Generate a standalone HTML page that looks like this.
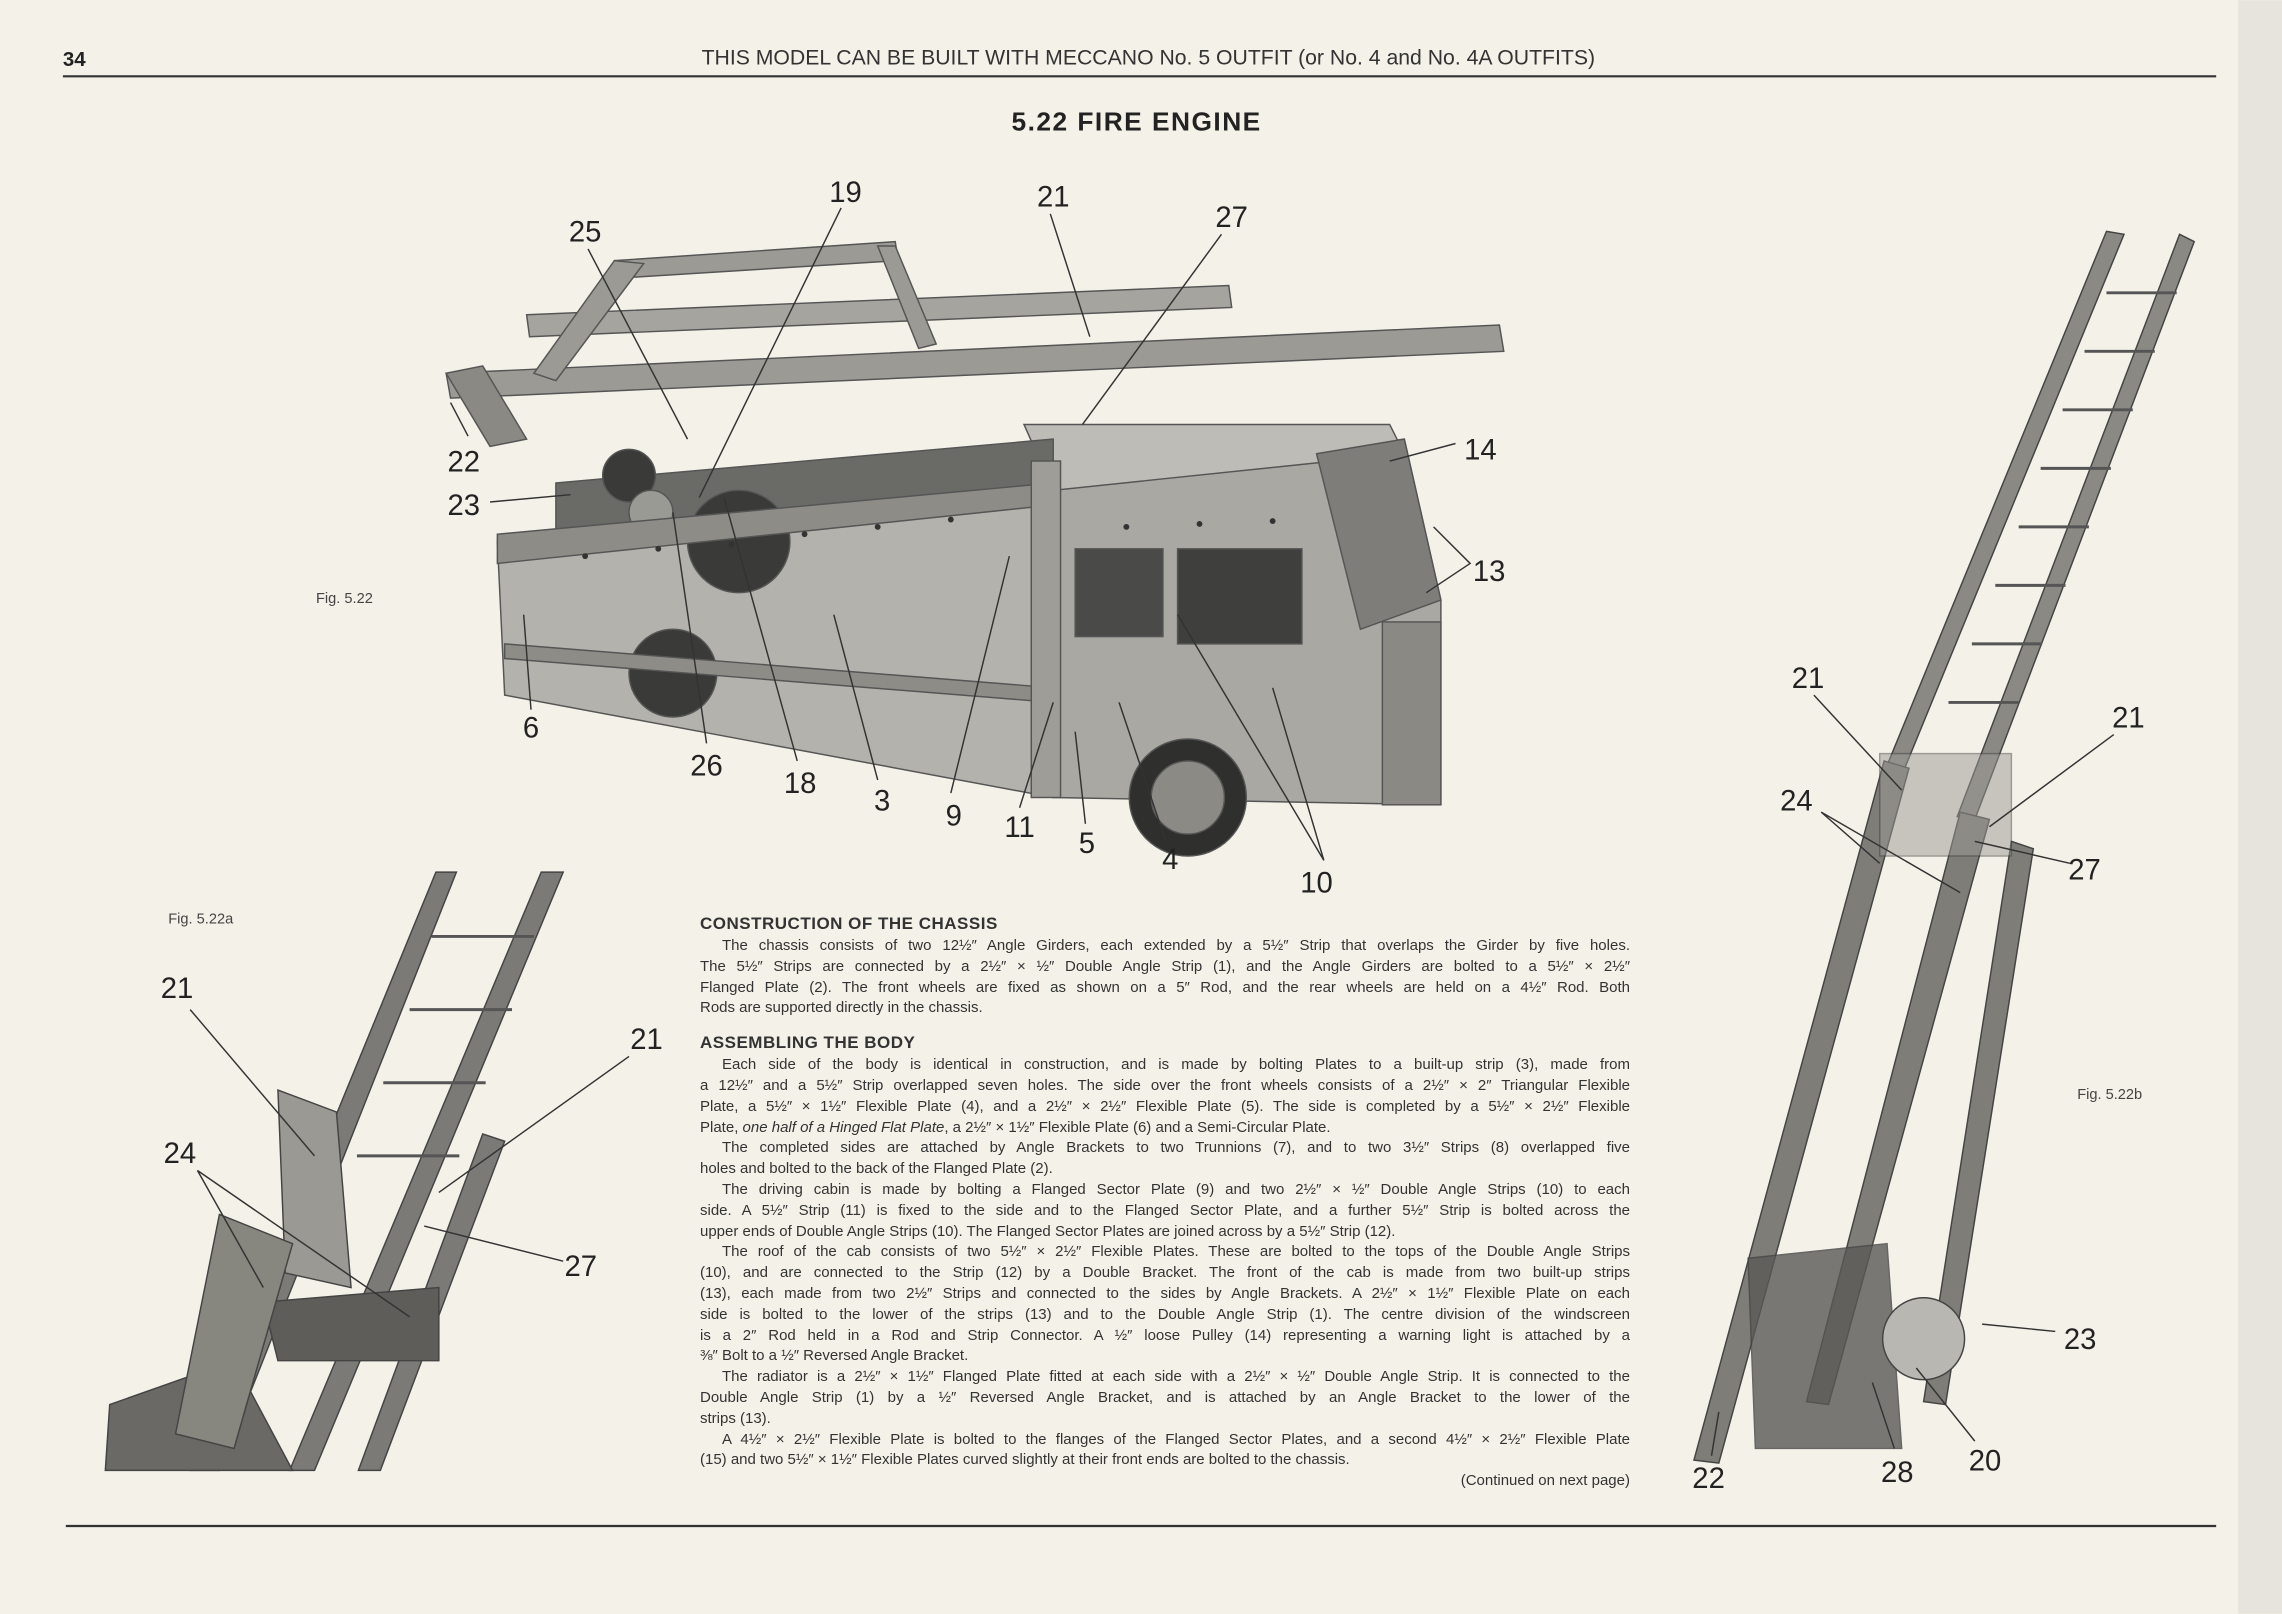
<!DOCTYPE html>
<html><head><meta charset="utf-8"><style>
html,body{margin:0;padding:0}
body{width:2282px;height:1614px;position:relative;background:#f3f1e8;overflow:hidden;font-family:"Liberation Sans",sans-serif;color:#2a2a2a}
svg{position:absolute;left:0;top:0}
#txt{position:absolute;left:700px;top:912px;width:930px;font-size:15px;line-height:20.8px;color:#333}
#txt .h{font-weight:bold;font-size:17px;letter-spacing:0.5px;line-height:24px;margin-top:0}
#txt .l{text-align:justify;text-align-last:justify;white-space:nowrap;overflow:hidden}
#txt .e{text-align:left;white-space:nowrap}
#txt .i{text-indent:22px}
</style></head><body>
<svg width="2282" height="1614" viewBox="0 0 1560 1103">
<rect x="1530" y="0" width="30" height="1103" fill="#e6e4dc"/>
<text x="43" y="45" font-size="14" font-weight="bold" fill="#222">34</text>
<text x="785" y="44" font-size="14.5" text-anchor="middle" fill="#333">THIS MODEL CAN BE BUILT WITH MECCANO No. 5 OUTFIT (or No. 4 and No. 4A OUTFITS)</text>
<line x1="43" y1="52" x2="1515" y2="52" stroke="#333" stroke-width="1.5"/>
<line x1="45" y1="1043" x2="1515" y2="1043" stroke="#333" stroke-width="1.5"/>
<text x="777" y="89" font-size="18" font-weight="bold" text-anchor="middle" fill="#222" letter-spacing="1">5.22 FIRE ENGINE</text>

<!-- main engine -->
<g stroke="#555" stroke-width="1">
<polygon points="340,370 720,335 720,545 345,475" fill="#b3b2ac"/>
<polygon points="720,335 960,300 985,410 985,550 720,545" fill="#a9a8a2"/>
<polygon points="700,290 950,290 960,310 720,335" fill="#bdbcb6"/>
<rect x="735" y="375" width="60" height="60" fill="#4a4a48"/>
<rect x="805" y="375" width="85" height="65" fill="#3f3f3d"/>
<polygon points="900,310 960,300 985,410 930,430" fill="#7e7d79"/>
<rect x="945" y="425" width="40" height="125" fill="#8a8984"/>
<polygon points="380,330 720,300 720,345 380,370" fill="#6a6a67"/>
<circle cx="460" cy="460" r="30" fill="#3a3a38"/>
<circle cx="812" cy="545" r="40" fill="#2f2f2d"/>
<circle cx="812" cy="545" r="25" fill="#8b8a85"/>
<circle cx="505" cy="370" r="35" fill="#3a3a38"/>
<circle cx="430" cy="325" r="18" fill="#3a3a38"/>
<circle cx="445" cy="350" r="15" fill="#9a9a94"/>
<polygon points="340,365 720,330 720,345 340,385" fill="#8d8c87"/>
<polygon points="345,440 720,470 720,480 345,450" fill="#8d8c87"/>
<rect x="705" y="315" width="20" height="230" fill="#9e9d98"/>
<polygon points="305,255 1025,222 1028,240 308,272" fill="#9b9a95"/>
<polygon points="360,215 840,195 842,210 362,230" fill="#a5a49f"/>
<polygon points="420,178 612,165 614,178 422,190" fill="#9b9a95"/>
<polygon points="420,178 440,180 380,260 365,255" fill="#9b9a95"/>
<polygon points="600,168 612,168 640,235 628,238" fill="#9b9a95"/>
<polygon points="305,255 330,250 360,300 335,305" fill="#8a8984"/>
</g>
<g fill="#333"><circle cx="400" cy="380" r="2"/><circle cx="450" cy="375" r="2"/><circle cx="500" cy="372" r="2"/><circle cx="550" cy="365" r="2"/><circle cx="600" cy="360" r="2"/><circle cx="650" cy="355" r="2"/><circle cx="770" cy="360" r="2"/><circle cx="820" cy="358" r="2"/><circle cx="870" cy="356" r="2"/></g>

<!-- left ladder -->
<g stroke="#444" stroke-width="1">
<polygon points="298,596 312,596 150,1005 130,1005" fill="#7b7a76"/>
<polygon points="370,596 385,596 215,1005 198,1005" fill="#7b7a76"/>
<polygon points="330,775 345,780 260,1005 245,1005" fill="#7b7a76"/>
<polygon points="75,960 160,930 200,1005 72,1005" fill="#6a6965"/>
<polygon points="190,745 230,760 240,880 195,870" fill="#9a9994"/>
<polygon points="180,890 300,880 300,930 190,930" fill="#5e5d5a"/>
<polygon points="150,830 200,850 160,990 120,980" fill="#87867f"/>
</g>
<g stroke="#555" stroke-width="2"><line x1="295" y1="640" x2="365" y2="640"/><line x1="280" y1="690" x2="350" y2="690"/><line x1="262" y1="740" x2="332" y2="740"/><line x1="244" y1="790" x2="314" y2="790"/></g>

<!-- right ladder -->
<g stroke="#444" stroke-width="1">
<polygon points="1440,158 1452,160 1300,530 1288,528" fill="#8a8984"/>
<polygon points="1490,160 1500,165 1350,560 1338,558" fill="#8a8984"/>
<polygon points="1288,520 1305,525 1175,1000 1158,998" fill="#7e7d78"/>
<polygon points="1340,555 1360,560 1250,960 1235,958" fill="#7e7d78"/>
<polygon points="1375,575 1390,580 1330,960 1315,958" fill="#7e7d78"/>
<polygon points="1195,860 1290,850 1300,990 1200,990" fill="#5a5956" opacity="0.8"/>
<circle cx="1315" cy="915" r="28" fill="#b8b7b1"/>
<rect x="1285" y="515" width="90" height="70" fill="#9a9994" opacity="0.5"/>
</g>
<g stroke="#555" stroke-width="2">
<line x1="1440" y1="200" x2="1488" y2="200"/><line x1="1425" y1="240" x2="1473" y2="240"/><line x1="1410" y1="280" x2="1458" y2="280"/><line x1="1395" y1="320" x2="1443" y2="320"/><line x1="1380" y1="360" x2="1428" y2="360"/><line x1="1364" y1="400" x2="1412" y2="400"/><line x1="1348" y1="440" x2="1396" y2="440"/><line x1="1332" y1="480" x2="1380" y2="480"/>
</g>

<!-- leaders -->
<g stroke="#333" stroke-width="1" fill="none">
<line x1="575" y1="142" x2="478" y2="340"/><line x1="718" y1="146" x2="745" y2="230"/><line x1="402" y1="170" x2="470" y2="300"/><line x1="835" y1="160" x2="740" y2="290"/><line x1="995" y1="303" x2="950" y2="315"/>
<polyline points="1005,385 980,360 1005,385 975,405"/><line x1="320" y1="298" x2="308" y2="275"/><line x1="335" y1="343" x2="390" y2="338"/>
<line x1="363" y1="485" x2="358" y2="420"/><line x1="483" y1="508" x2="460" y2="350"/><line x1="545" y1="520" x2="495" y2="340"/><line x1="600" y1="533" x2="570" y2="420"/><line x1="650" y1="542" x2="690" y2="380"/><line x1="697" y1="552" x2="720" y2="480"/><line x1="742" y1="563" x2="735" y2="500"/><line x1="797" y1="575" x2="765" y2="480"/><polyline points="905,588 805,420 905,588 870,470"/>
<line x1="130" y1="690" x2="215" y2="790"/><line x1="430" y1="722" x2="300" y2="815"/><polyline points="180,880 135,800 280,900"/><line x1="385" y1="862" x2="290" y2="838"/>
<line x1="1240" y1="475" x2="1300" y2="540"/><line x1="1445" y1="502" x2="1360" y2="565"/><polyline points="1285,590 1245,555 1340,610"/><line x1="1415" y1="590" x2="1350" y2="575"/><line x1="1405" y1="910" x2="1355" y2="905"/><line x1="1170" y1="995" x2="1175" y2="965"/><line x1="1295" y1="990" x2="1280" y2="945"/><line x1="1350" y1="985" x2="1310" y2="935"/>
</g>
<g font-size="20" fill="#222" text-anchor="middle">
<text x="578" y="138">19</text><text x="720" y="141">21</text><text x="400" y="165">25</text><text x="842" y="155">27</text><text x="1012" y="314">14</text><text x="1018" y="397">13</text><text x="317" y="322">22</text><text x="317" y="352">23</text><text x="363" y="504">6</text><text x="483" y="530">26</text><text x="547" y="542">18</text><text x="603" y="554">3</text><text x="652" y="564">9</text><text x="697" y="572">11</text><text x="743" y="583">5</text><text x="800" y="594">4</text><text x="900" y="610">10</text>
<text x="121" y="682">21</text><text x="442" y="717">21</text><text x="123" y="795">24</text><text x="397" y="872">27</text>
<text x="1236" y="470">21</text><text x="1455" y="497">21</text><text x="1228" y="554">24</text><text x="1425" y="601">27</text><text x="1422" y="922">23</text><text x="1168" y="1017">22</text><text x="1297" y="1013">28</text><text x="1357" y="1005">20</text>
</g>
<g font-size="10" fill="#444"><text x="216" y="412">Fig. 5.22</text><text x="115" y="631">Fig. 5.22a</text><text x="1420" y="751">Fig. 5.22b</text></g>
</svg>

<div id="txt">
<div class="h">CONSTRUCTION OF THE CHASSIS</div>
<div class="l i">The chassis consists of two 12½″ Angle Girders, each extended by a 5½″ Strip that overlaps the Girder by five holes.</div>
<div class="l">The 5½″ Strips are connected by a 2½″ × ½″ Double Angle Strip (1), and the Angle Girders are bolted to a 5½″ × 2½″</div>
<div class="l">Flanged Plate (2). The front wheels are fixed as shown on a 5″ Rod, and the rear wheels are held on a 4½″ Rod. Both</div>
<div class="e">Rods are supported directly in the chassis.</div>
<div class="h" style="margin-top:12px">ASSEMBLING THE BODY</div>
<div class="l i">Each side of the body is identical in construction, and is made by bolting Plates to a built-up strip (3), made from</div>
<div class="l">a 12½″ and a 5½″ Strip overlapped seven holes. The side over the front wheels consists of a 2½″ × 2″ Triangular Flexible</div>
<div class="l">Plate, a 5½″ × 1½″ Flexible Plate (4), and a 2½″ × 2½″ Flexible Plate (5). The side is completed by a 5½″ × 2½″ Flexible</div>
<div class="e">Plate, <i>one half of a Hinged Flat Plate</i>, a 2½″ × 1½″ Flexible Plate (6) and a Semi-Circular Plate.</div>
<div class="l i">The completed sides are attached by Angle Brackets to two Trunnions (7), and to two 3½″ Strips (8) overlapped five</div>
<div class="e">holes and bolted to the back of the Flanged Plate (2).</div>
<div class="l i">The driving cabin is made by bolting a Flanged Sector Plate (9) and two 2½″ × ½″ Double Angle Strips (10) to each</div>
<div class="l">side. A 5½″ Strip (11) is fixed to the side and to the Flanged Sector Plate, and a further 5½″ Strip is bolted across the</div>
<div class="e">upper ends of Double Angle Strips (10). The Flanged Sector Plates are joined across by a 5½″ Strip (12).</div>
<div class="l i">The roof of the cab consists of two 5½″ × 2½″ Flexible Plates. These are bolted to the tops of the Double Angle Strips</div>
<div class="l">(10), and are connected to the Strip (12) by a Double Bracket. The front of the cab is made from two built-up strips</div>
<div class="l">(13), each made from two 2½″ Strips and connected to the sides by Angle Brackets. A 2½″ × 1½″ Flexible Plate on each</div>
<div class="l">side is bolted to the lower of the strips (13) and to the Double Angle Strip (1). The centre division of the windscreen</div>
<div class="l">is a 2″ Rod held in a Rod and Strip Connector. A ½″ loose Pulley (14) representing a warning light is attached by a</div>
<div class="e">⅜″ Bolt to a ½″ Reversed Angle Bracket.</div>
<div class="l i">The radiator is a 2½″ × 1½″ Flanged Plate fitted at each side with a 2½″ × ½″ Double Angle Strip. It is connected to the</div>
<div class="l">Double Angle Strip (1) by a ½″ Reversed Angle Bracket, and is attached by an Angle Bracket to the lower of the</div>
<div class="e">strips (13).</div>
<div class="l i">A 4½″ × 2½″ Flexible Plate is bolted to the flanges of the Flanged Sector Plates, and a second 4½″ × 2½″ Flexible Plate</div>
<div class="e">(15) and two 5½″ × 1½″ Flexible Plates curved slightly at their front ends are bolted to the chassis.</div>
<div style="text-align:right">(Continued on next page)</div>
</div>
</body></html>
